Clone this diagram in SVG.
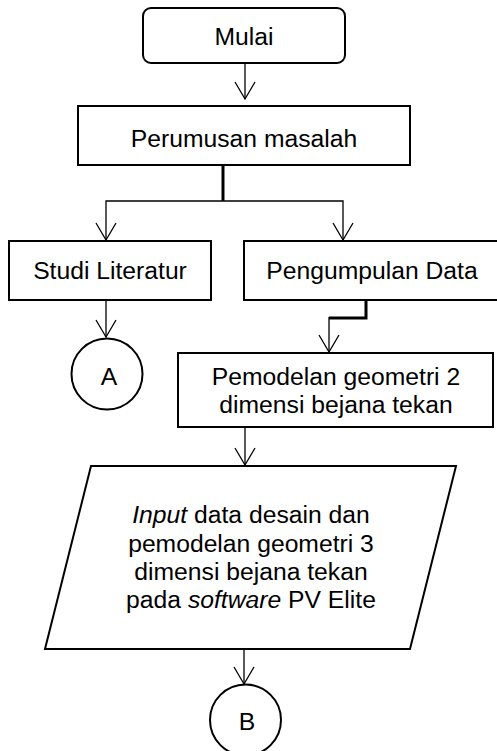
<svg xmlns="http://www.w3.org/2000/svg" width="497" height="751" viewBox="0 0 497 751">
<defs>
<style>
.box{fill:#fff;stroke:#000;stroke-width:2}
.t{font-family:"Liberation Sans",Arial,sans-serif;font-size:24.7px;fill:#000;text-anchor:middle}
.c{fill:none;stroke:#000;stroke-width:1.3}
.k{fill:none;stroke:#000;stroke-width:3}
.ah{fill:none;stroke:#000;stroke-width:1.3}
</style>
</defs>
<rect width="497" height="751" fill="#fff"/>
<g id="connectors">
<line class="c" x1="245" y1="63" x2="245" y2="99"/>
<path class="ah" d="M235,82 L245,99 L255,82"/>
<line class="k" x1="223" y1="165" x2="223" y2="201"/>
<path class="c" d="M106,240 L106,201 L343,201 L343,240"/>
<path class="ah" d="M96,223 L106,240 L116,223"/>
<path class="ah" d="M333,223 L343,240 L353,223"/>
<line class="c" x1="106" y1="300" x2="106" y2="337"/>
<path class="ah" d="M96,320 L106,337 L116,320"/>
<path class="k" d="M366,300 L366,318 L329,318"/>
<line class="c" x1="329" y1="317" x2="329" y2="352"/>
<path class="ah" d="M319,335 L329,352 L339,335"/>
<line class="c" x1="245" y1="427" x2="245" y2="465"/>
<path class="ah" d="M235,448 L245,465 L255,448"/>
<line class="c" x1="244" y1="649" x2="244" y2="684" stroke="#444"/>
<path class="ah" d="M234,667 L244,684 L254,667"/>
</g>
<g id="mulai">
<rect class="box" x="143" y="8" width="202" height="55" rx="8"/>
<text class="t" x="244" y="45">Mulai</text>
</g>
<g id="perumusan">
<rect class="box" x="78" y="106" width="332" height="59"/>
<text class="t" x="244" y="147">Perumusan masalah</text>
</g>
<g id="studi">
<rect class="box" x="9" y="241" width="202" height="59"/>
<text class="t" x="110" y="279">Studi Literatur</text>
</g>
<g id="pengumpulan">
<rect class="box" x="244" y="241" width="260" height="59"/>
<text class="t" x="372" y="279">Pengumpulan Data</text>
</g>
<g id="A">
<circle class="box" cx="107" cy="374" r="35.5"/>
<text class="t" x="109" y="385">A</text>
</g>
<g id="pemodelan2d">
<rect class="box" x="178" y="353" width="315" height="74"/>
<text class="t" x="336" y="385">Pemodelan geometri 2</text>
<text class="t" x="336" y="413">dimensi bejana tekan</text>
</g>
<g id="input">
<polygon class="box" points="91,466 456,466 410,649 45,649"/>
<text class="t" x="251" y="523"><tspan font-style="italic">Input</tspan> data desain dan</text>
<text class="t" x="251" y="551.5">pemodelan geometri 3</text>
<text class="t" x="251" y="580">dimensi bejana tekan</text>
<text class="t" x="251" y="608">pada <tspan font-style="italic">software</tspan> PV Elite</text>
</g>
<g id="B">
<circle class="box" cx="245.5" cy="720" r="35.5"/>
<text class="t" x="247" y="730">B</text>
</g>
</svg>
